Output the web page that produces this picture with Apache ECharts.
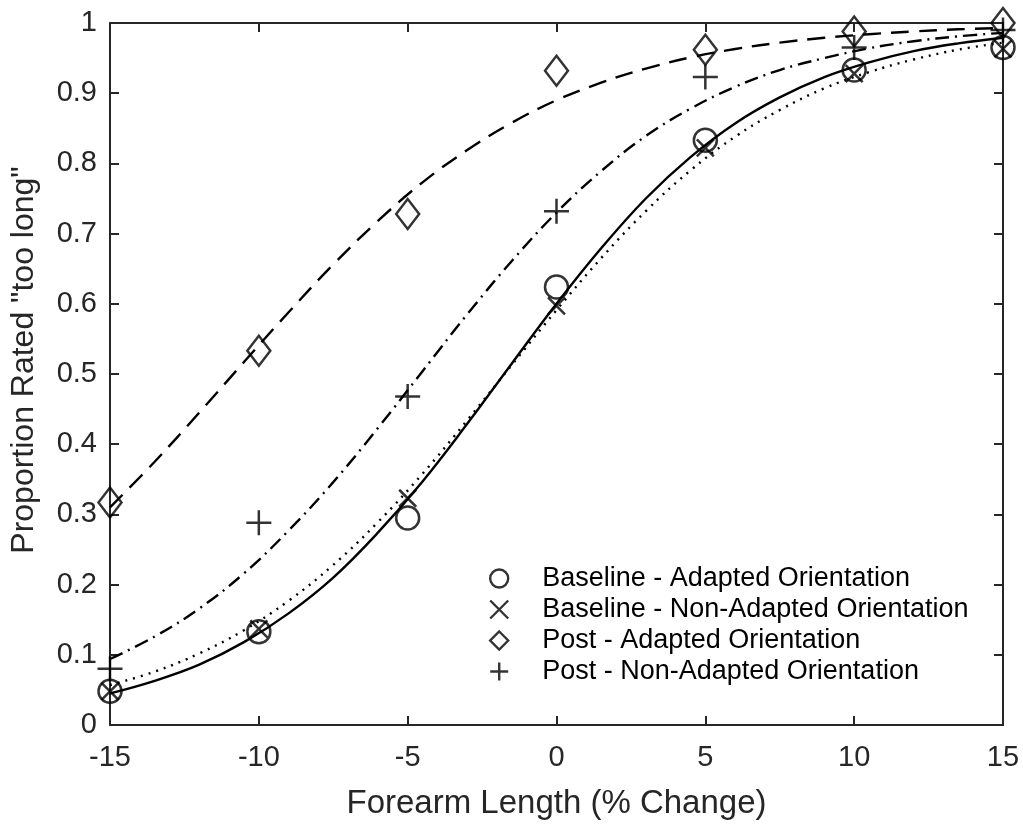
<!DOCTYPE html>
<html>
<head>
<meta charset="utf-8">
<script src="https://cdn.jsdelivr.net/npm/echarts@6/dist/echarts.min.js"></script>
<style>
html,body{margin:0;padding:0;background:#fff;}
#chart{width:1023px;height:825px;}
</style>
</head>
<body>
<div id="chart"></div>
<script>
// Measurement levels (% change)
var xLevels = [-15, -10, -5, 0, 5, 10, 15];
// Observed proportions
var baseAdapted    = [0.048, 0.133, 0.295, 0.624, 0.833, 0.933, 0.965];
var baseNonAdapted = [0.048, 0.137, 0.323, 0.597, 0.822, 0.928, 0.963];
var postAdapted    = [0.317, 0.533, 0.728, 0.932, 0.962, 0.988, 1.000];
var postNonAdapted = [0.080, 0.288, 0.468, 0.732, 0.923, 0.965, 0.990];

// Fitted curves
var fitX = [-15, -13.5, -12, -10.5, -9, -7.5, -6, -4.5, -3, -1.5, 0, 1.5, 3, 4.5, 6, 7.5, 9, 10.5, 12, 13.5, 15];
var fitBaseAdapted    = [0.045, 0.063, 0.086, 0.118, 0.159, 0.210, 0.274, 0.347, 0.429, 0.515, 0.600, 0.679, 0.750, 0.809, 0.857, 0.894, 0.923, 0.944, 0.960, 0.971, 0.979];
var fitBaseNonAdapted = [0.057, 0.076, 0.102, 0.135, 0.177, 0.228, 0.289, 0.358, 0.434, 0.513, 0.591, 0.665, 0.732, 0.790, 0.838, 0.876, 0.907, 0.930, 0.948, 0.962, 0.972];
var fitPostAdapted    = [0.310, 0.375, 0.445, 0.517, 0.588, 0.656, 0.718, 0.773, 0.819, 0.858, 0.890, 0.915, 0.935, 0.951, 0.963, 0.972, 0.979, 0.984, 0.988, 0.991, 0.993];
var fitPostNonAdapted = [0.094, 0.126, 0.166, 0.216, 0.277, 0.346, 0.423, 0.504, 0.585, 0.661, 0.730, 0.789, 0.839, 0.878, 0.909, 0.933, 0.950, 0.964, 0.974, 0.981, 0.986];

var names = ['Baseline - Adapted Orientation', 'Baseline - Non-Adapted Orientation', 'Post - Adapted Orientation', 'Post - Non-Adapted Orientation'];

function pairs(xs, ys){ return xs.map(function(x,i){ return [x, ys[i]]; }); }

var FONT = "'Liberation Sans', Arial, Helvetica, sans-serif";
var AX = '#262626';

var markerStyle = { color: 'rgba(0,0,0,0)', borderColor: '#000', borderWidth: 2.5 };

function scatter(name, ys, symbol, size){
  return {
    name: name, type: 'scatter', data: pairs(xLevels, ys),
    symbol: symbol, symbolSize: size, symbolKeepAspect: false,
    itemStyle: markerStyle, z: 5, silent: true
  };
}
function fit(ys, dash){
  return {
    type: 'line', data: pairs(fitX, ys), smooth: 0.4, symbol: 'none',
    lineStyle: { color: '#000', width: 2.4, type: dash }, z: 3, silent: true
  };
}

var chart = echarts.init(document.getElementById('chart'), null, {renderer: 'canvas'});
chart.setOption({
  animation: false,
  backgroundColor: '#fff',
  grid: { left: 108, right: 20, top: 23, bottom: 98 },
  xAxis: [{
    type: 'value', min: -15, max: 15, interval: 5,
    name: 'Forearm Length (% Change)', nameLocation: 'middle', nameGap: 62,
    nameTextStyle: { fontSize: 33, color: AX, fontFamily: FONT },
    axisLine: { show: true, onZero: false, lineStyle: { color: AX, width: 2 } },
    axisTick: { show: true, inside: true, length: 9, lineStyle: { color: AX, width: 2 } },
    axisLabel: { fontSize: 29, color: AX, fontFamily: FONT, margin: 18 },
    splitLine: { show: false }
  }, {
    type: 'value', min: -15, max: 15, interval: 5, position: 'top',
    axisLine: { show: true, onZero: false, lineStyle: { color: AX, width: 2 } },
    axisTick: { show: true, inside: true, length: 9, lineStyle: { color: AX, width: 2 } },
    axisLabel: { show: false }, splitLine: { show: false }
  }],
  yAxis: [{
    type: 'value', min: 0, max: 1, interval: 0.1,
    name: 'Proportion Rated "too long"', nameLocation: 'middle', nameGap: 70,
    nameTextStyle: { fontSize: 32, color: AX, fontFamily: FONT, padding: [0, 0, 0, 28] },
    axisLine: { show: true, onZero: false, lineStyle: { color: AX, width: 2 } },
    axisTick: { show: true, inside: true, length: 9, lineStyle: { color: AX, width: 2 } },
    axisLabel: { fontSize: 29, color: AX, fontFamily: FONT, margin: 13 },
    splitLine: { show: false }
  }, {
    type: 'value', min: 0, max: 1, interval: 0.1, position: 'right',
    axisLine: { show: true, onZero: false, lineStyle: { color: AX, width: 2 } },
    axisTick: { show: true, inside: true, length: 9, lineStyle: { color: AX, width: 2 } },
    axisLabel: { show: false }, splitLine: { show: false }
  }],
  legend: {
    data: names, orient: 'vertical', left: 484, top: 560,
    itemWidth: 76, itemHeight: 18, itemGap: 4, symbolKeepAspect: true,
    itemStyle: { borderWidth: 2.4, borderColor: '#000', color: 'rgba(0,0,0,0)' },
    textStyle: { fontSize: 27, color: '#000', fontFamily: FONT, lineHeight: 26 },
    selectedMode: false
  },
  series: [
    fit(fitBaseAdapted, 'solid'),
    fit(fitBaseNonAdapted, [2, 6]),
    fit(fitPostAdapted, [18, 10]),
    fit(fitPostNonAdapted, [14, 6, 2, 6]),
    scatter(names[0], baseAdapted, 'circle', 23),
    scatter(names[1], baseNonAdapted, 'path://M-1,-1 L1,1 M-1,1 L1,-1', [17, 17]),
    scatter(names[2], postAdapted, 'path://M0,-1 L1,0 L0,1 L-1,0 Z', [23, 30]),
    scatter(names[3], postNonAdapted, 'path://M-1,0 L1,0 M0,-1 L0,1', [25, 25])
  ]
});
</script>
</body>
</html>
